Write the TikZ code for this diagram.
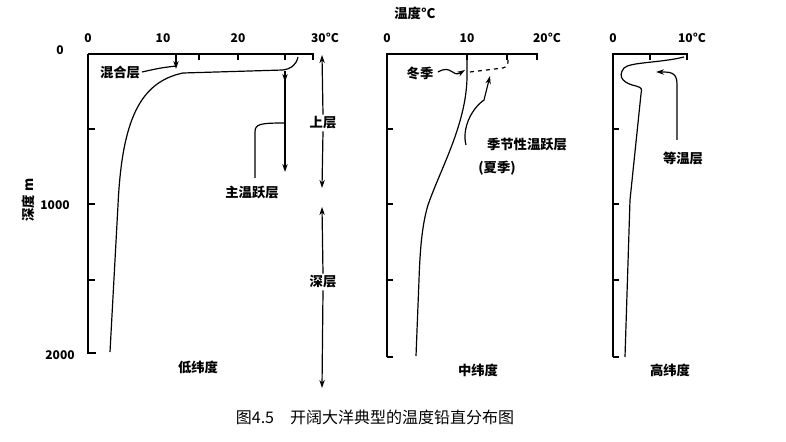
\documentclass[tikz,border=0pt]{standalone}
\usepackage{fontspec}
\setmainfont{Noto Sans CJK SC}
\usetikzlibrary{arrows.meta}
\begin{document}
\begin{tikzpicture}[x=0.75pt,y=-0.75pt,line width=0.9pt,
  lbl/.style={font=\fontsize{10}{12}\selectfont\bfseries,inner sep=1pt},
  num/.style={font=\fontsize{9}{11}\selectfont\bfseries,inner sep=1pt},
  ar/.style={-{Stealth[length=6pt,width=4pt]}}]
\useasboundingbox (0,0) rectangle (786,442);
% panel 1 axes
\draw (88,54) -- (313,54) -- (313,60);
\draw (96,353) -- (88,353) -- (88,54);
\foreach \y in {129,204,280} \draw (88,\y) -- (95,\y);
\foreach \x in {176,199,238,285} \draw (\x,54) -- (\x,60);
\node[num] (t0) at (88,38) {0};
\node[num] (t10) at (163,38) {10};
\node[num] (t20) at (238,38) {20};
\node[num] (t30) at (325,38) {30°C};
\node[num] (d0) at (60,50) {0};
\node[num] (d1) at (55,205) {1000};
\node[num] (d2) at (60,355) {2000};
\node[lbl,rotate=90] (dep) at (28,200) {深度 m};
% panel 1 curve
\draw (298,57) .. controls (296,66) and (290,69) .. (283,70) -- (183,73)
  .. controls (140,82) and (122,120) .. (118,205) -- (110,352);
\node[lbl] (mix) at (120,72) {混合层};
\coordinate (mixa) at (176,57);
\draw[ar] (mixa) -- (176,69);
\draw (mix.east) .. controls (160,68) .. (176,66);
\coordinate (tha) at (285,71);
\coordinate (thb) at (285,172);
\draw[ar] (tha) -- (285,82);
\draw[ar] (285,80) -- (thb);
\node[lbl] (main) at (252,192) {主温跃层};
\draw (255,178) -- (255,132) .. controls (255,124) and (260,123) .. (285,123);
% layers arrows
\node[lbl] (up) at (323,123) {上层};
\node[lbl] (deep) at (323,282) {深层};
\coordinate (u0) at (322,55);
\coordinate (u1) at (322,188);
\draw[ar] (up.north) -- (u0);
\draw[ar] (up.south) -- (u1);
\coordinate (g0) at (322,207);
\coordinate (g1) at (322,388);
\draw[ar] (deep.north) -- (g0);
\draw[ar] (deep.south) -- (g1);
\node[lbl] (low) at (198,367) {低纬度};
% panel 2
\draw (387,357) -- (387,54) -- (537,54) -- (537,60);
\draw (387,357) -- (393,357);
\foreach \y in {129,204,280} \draw (387,\y) -- (393,\y);
\foreach \x in {467,507} \draw (\x,54) -- (\x,60);
\node[num] (m0) at (387,38) {0};
\node[num] (m10) at (467,38) {10};
\node[num] (m20) at (547,38) {20°C};
\node[lbl] (temp) at (415,13) {温度°C};
\draw (467,55) -- (467,78) .. controls (466,125) and (440,170) .. (428,205)
  .. controls (422,225) and (420,250) .. (419,280) -- (416,356);
\draw[dashed] (470,72) -- (503,68) .. controls (508,66) .. (508,57);
\node[lbl] (win) at (420,73) {冬季};
\draw[ar] (438,72) .. controls (452,64) and (452,78) .. (465,70);
\node[lbl] (sea) at (527,145) {季节性温跃层};
\node[lbl] (sum) at (497,168) {(夏季)};
\draw[ar] (466,145) .. controls (462,130) and (470,110) .. (484,100) -- (490,76);
\node[lbl] (mid) at (478,370) {中纬度};
% panel 3
\draw (613,357) -- (613,54) -- (687,54) -- (687,60);
\draw (613,357) -- (619,357);
\foreach \y in {129,204,280} \draw (613,\y) -- (619,\y);
\draw (650,54) -- (650,60);
\node[num] (h0) at (613,38) {0};
\node[num] (h10) at (692,38) {10°C};
\draw (684,57) .. controls (660,63) and (630,62) .. (624,68)
  .. controls (616,78) and (626,84) .. (636,86) .. controls (642,88) .. (641,94)
  -- (630,200) -- (625,357);
\node[lbl] (iso) at (683,158) {等温层};
\draw[ar] (677,140) -- (677,84) .. controls (677,72) and (670,72) .. (656,72);
\node[lbl] (high) at (670,370) {高纬度};
% caption
\node[font=\fontsize{12}{14}\selectfont] (cap) at (375,417) {图4.5\quad 开阔大洋典型的温度铅直分布图};
\end{tikzpicture}
\end{document}
